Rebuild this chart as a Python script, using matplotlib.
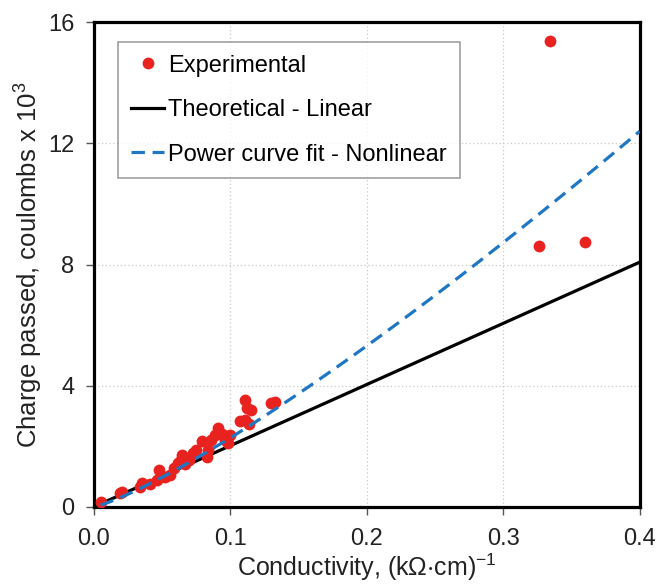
import numpy as np
import matplotlib.pyplot as plt

plt.rcParams['font.family'] = ['Liberation Sans', 'DejaVu Sans']
plt.rcParams['mathtext.default'] = 'regular'

# experimental points
cond = [0.0054, 0.019, 0.021, 0.034, 0.035, 0.041, 0.046, 0.048, 0.052, 0.056,
        0.059, 0.062, 0.064, 0.065, 0.067, 0.070, 0.073, 0.075, 0.079, 0.083,
        0.084, 0.086, 0.089, 0.091, 0.094, 0.096, 0.0985, 0.100, 0.107, 0.111,
        0.112, 0.111, 0.115, 0.114, 0.130, 0.133, 0.326, 0.334, 0.360]
charge = [0.17, 0.45, 0.50, 0.67, 0.78, 0.75, 0.89, 1.22, 1.00, 1.05,
          1.27, 1.44, 1.55, 1.72, 1.40, 1.55, 1.77, 1.88, 2.16, 1.66,
          1.88, 2.21, 2.38, 2.60, 2.40, 2.20, 2.10, 2.38, 2.82, 2.87,
          3.26, 3.53, 3.20, 2.75, 3.42, 3.47, 8.61, 15.38, 8.74]

# model lines
lin_x = [0.0, 0.4]
lin_slope = 20.2
pow_a, pow_b = 38.0, 1.222
pow_x = np.linspace(0.005, 0.4, 100)

fig = plt.figure(figsize=(6.65, 5.86), dpi=100)
ax = fig.add_axes([0.141, 0.135, 0.821, 0.827])

ax.plot(cond, charge, 'o', color='#e8231f', ms=8.5, mec='none', label='Experimental', zorder=3)
ax.plot(lin_x, [lin_slope * v for v in lin_x], color='black', lw=2.3,
        label='Theoretical - Linear', zorder=2)
ax.plot(pow_x, pow_a * pow_x ** pow_b, '--', color='#1f77c4', lw=2.3, dashes=(4.2, 2.4),
        label='Power curve fit - Nonlinear', zorder=4)

ax.set_xlim(0, 0.4)
ax.set_ylim(0, 16)
ax.set_xticks([0.0, 0.1, 0.2, 0.3, 0.4])
ax.set_xticklabels(['0.0', '0.1', '0.2', '0.3', '0.4'])
ax.set_yticks([0, 4, 8, 12, 16])
ax.grid(True, ls=(0, (1, 2)), color='#c8c8c8', lw=0.9)
ax.set_axisbelow(True)
for s in ax.spines.values():
    s.set_linewidth(2.3)
ax.tick_params(labelsize=17, length=6, width=1, direction='out', colors='#555555',
               labelcolor='#222222')
ax.tick_params(axis='x', pad=9)
ax.tick_params(axis='y', pad=8)

ax.set_xlabel(r'Conductivity, (k$\Omega$$\cdot$cm)$^{-1}$', fontsize=18, labelpad=1, color='#222222')
ax.set_ylabel(r'Charge passed, coulombs x 10$^{3}$', fontsize=18.5, labelpad=2, color='#222222')

leg = ax.legend(loc='upper left', bbox_to_anchor=(0.045, 0.96), borderaxespad=0,
                fontsize=17, frameon=True, fancybox=False, edgecolor='#888888',
                handlelength=1.4, handletextpad=0.15, labelspacing=0.95, borderpad=0.55)
leg.get_frame().set_linewidth(1.2)

fig.savefig('out.png', dpi=100)
